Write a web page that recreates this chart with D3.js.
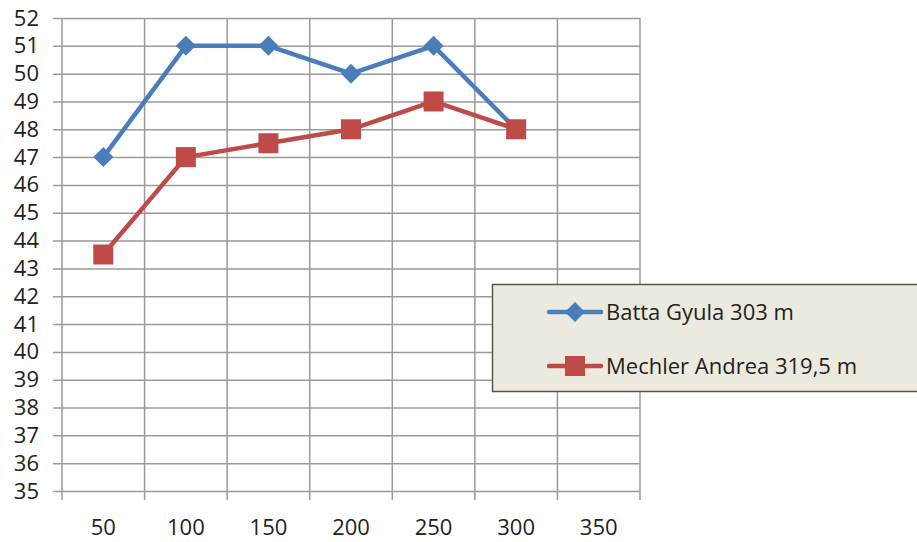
<!DOCTYPE html>
<html>
<head>
<meta charset="utf-8">
<script src="https://cdn.jsdelivr.net/npm/d3@7"></script>
<style>
  body { margin: 0; background: #fff; }
  text { font-family: "Open Sans", "Noto Sans", sans-serif; fill: #222; }
</style>
</head>
<body>
<div id="chart"></div>
<script>
var width = 917;
var height = 542;
var margin = {top: 18, left: 62, right: 277, bottom: 51};

var categories = ["50", "100", "150", "200", "250", "300", "350"];
var battaValues = [47, 51, 51, 50, 51, 48];
var mechlerValues = [43.5, 47, 47.5, 48, 49, 48];
var yTicks = d3.range(35, 53, 1);

var series = [
  {name: "Batta Gyula 303 m", values: battaValues, color: "#4A7EBB", marker: "diamond"},
  {name: "Mechler Andrea 319,5 m", values: mechlerValues, color: "#BE4B48", marker: "square"}
];

var svg = d3.select("#chart")
  .append("svg")
  .attr("width", width)
  .attr("height", height);

var xScale = d3.scaleBand()
  .domain(categories)
  .range([margin.left, width - margin.right]);

var yScale = d3.scaleLinear()
  .domain([35, 52])
  .range([height - margin.bottom, margin.top]);

// horizontal gridlines + y axis
var yAxis = svg.append("g")
  .attr("transform", `translate(${margin.left},0)`)
  .call(d3.axisLeft(yScale)
    .tickValues(yTicks)
    .tickSize(-(width - margin.right - margin.left))
    .tickSizeOuter(0)
    .tickFormat(d3.format("d")));
yAxis.select(".domain").remove();
yAxis.selectAll("line").attr("stroke", "#9a9a9a").attr("stroke-width", 1.5)
  .attr("x1", -9);
yAxis.selectAll("text").style("font-size", "22px").attr("x", -23).attr("fill", "#222");

// vertical gridlines at band edges
var edges = categories.map(function(c) { return xScale(c); }).concat([xScale.range()[1]]);
svg.append("g").selectAll("line")
  .data(edges)
  .enter()
  .append("line")
    .attr("x1", function(d) { return d; })
    .attr("x2", function(d) { return d; })
    .attr("y1", margin.top)
    .attr("y2", height - margin.bottom + 9)
    .attr("stroke", "#9a9a9a")
    .attr("stroke-width", 1.5);

// x labels
svg.append("g").selectAll("text")
  .data(categories)
  .enter()
  .append("text")
    .attr("x", function(d) { return xScale(d) + xScale.bandwidth() / 2; })
    .attr("y", height - 7)
    .attr("text-anchor", "middle")
    .style("font-size", "22px")
    .text(function(d) { return d; });

var line = d3.line()
  .x(function(d, i) { return xScale(categories[i]) + xScale.bandwidth() / 2; })
  .y(function(d) { return yScale(d); });

function drawMarker(g, s, x, y) {
  if (s.marker === "diamond") {
    g.append("path")
      .attr("d", `M${x},${y - 10}L${x + 10},${y}L${x},${y + 10}L${x - 10},${y}Z`)
      .attr("fill", s.color);
  } else {
    g.append("rect")
      .attr("x", x - 10).attr("y", y - 10)
      .attr("width", 20).attr("height", 20)
      .attr("fill", s.color);
  }
}

series.forEach(function(s) {
  svg.append("path")
    .datum(s.values)
    .attr("d", line)
    .attr("fill", "none")
    .attr("stroke", s.color)
    .attr("stroke-width", 4.5)
    .attr("stroke-linejoin", "round");
  var g = svg.append("g");
  s.values.forEach(function(v, i) {
    drawMarker(g, s, xScale(categories[i]) + xScale.bandwidth() / 2, yScale(v));
  });
});

// legend
var legend = svg.append("g");
legend.append("rect")
  .attr("x", 492.5).attr("y", 284.5)
  .attr("width", 440).attr("height", 107)
  .attr("fill", "#ECEADF")
  .attr("stroke", "#555")
  .attr("stroke-width", 1.5);

series.forEach(function(s, i) {
  var y = 312 + i * 54;
  legend.append("line")
    .attr("x1", 549).attr("x2", 601)
    .attr("y1", y).attr("y2", y)
    .attr("stroke", s.color)
    .attr("stroke-width", 4.5)
    .attr("stroke-linecap", "round");
  drawMarker(legend, s, 575, y);
  legend.append("text")
    .attr("x", 606).attr("y", y + 8)
    .style("font-size", "22px")
    .text(s.name);
});
</script>
</body>
</html>
